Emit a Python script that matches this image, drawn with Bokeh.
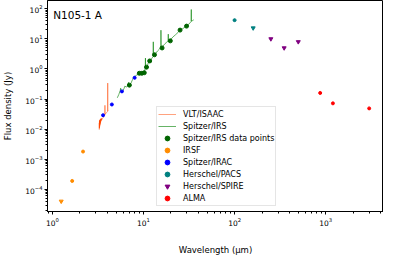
from bokeh.plotting import figure
from bokeh.models import Legend, LegendItem, FixedTicker, Label
from bokeh.embed import file_html
from bokeh.resources import INLINE

# ---- data (wavelength in micron, flux density in Jy) ----
isaac_wl = [3.27, 3.275, 3.28, 3.285, 3.29, 3.295, 3.30, 3.305, 3.31, 3.32, 3.33, 3.335, 3.34,
            3.35, 3.36, 3.37, 3.38, 3.39, 3.40, 3.42, 3.43, 3.45, 3.46, 3.48,
            3.50, 3.55, 3.62, 3.70, 3.76, 3.775, 3.79, 3.88, 3.98, 4.04, 4.05, 4.06, 4.10]
isaac_flux = [0.0095, 0.016, 0.0105, 0.018, 0.011, 0.019, 0.012, 0.018, 0.013, 0.020, 0.014,
              0.020, 0.015, 0.021, 0.016, 0.021, 0.017, 0.022, 0.018, 0.022, 0.019, 0.023,
              0.020, 0.022, 0.021, 0.023, 0.024, 0.028, 0.030, 0.062, 0.031, 0.034, 0.037,
              0.039, 0.34, 0.040, 0.041]

irs_wl = [5.16, 5.35, 5.55, 5.62, 5.68, 5.9, 6.1, 6.25, 6.45, 6.7, 6.85, 7.0, 7.3, 7.6, 7.8,
          8.1, 8.5, 8.9, 9.3, 9.7, 10.2, 10.45, 10.51, 10.56, 11.0, 11.3, 11.8, 12.4, 12.78,
          12.81, 12.85, 13.5, 14.3, 15.0, 15.52, 15.55, 15.6, 16.3, 17.2, 18.0, 18.68, 18.71,
          18.75, 19.7, 21.0, 22.5, 24.0, 25.2, 27.0, 28.5, 30.0, 31.5, 33.4, 33.47, 33.52,
          34.5, 35.6]
irs_flux = [0.11, 0.14, 0.19, 0.23, 0.17, 0.18, 0.22, 0.27, 0.25, 0.27, 0.36, 0.29, 0.34, 0.45,
            0.55, 0.58, 0.64, 0.66, 0.70, 0.72, 0.78, 1.05, 2.3, 1.1, 1.25, 1.6, 1.85, 2.3, 2.6,
            8.0, 2.7, 3.2, 4.0, 4.6, 5.3, 19.5, 5.4, 5.7, 6.9, 7.8, 8.5, 14.4, 8.6, 9.2, 11.5,
            13.8, 16.5, 19.3, 22.0, 24.5, 27.5, 31.0, 38.0, 95.0, 39.0, 40.5, 43.0]

irs_pts_wl = [7.0, 9.0, 9.6, 10.2, 10.8, 11.7, 13.2, 16.0, 19.7, 25.2, 29.7]
irs_pts_flux = [0.29, 0.72, 0.72, 0.75, 1.15, 1.85, 2.97, 5.0, 8.6, 19.6, 26.6]

irsf_wl = [1.65, 2.17]
irsf_flux = [1.9e-4, 1.8e-3]
irsf_lim_wl = [1.25]
irsf_lim_flux = [4.0e-5]

irac_wl = [3.6, 4.5, 5.8, 8.0]
irac_flux = [0.029, 0.066, 0.18, 0.51]

pacs_wl = [100]
pacs_flux = [42.0]
pacs_lim_wl = [160]
pacs_lim_flux = [23.0]

spire_wl = [250, 350, 500]
spire_flux = [10.0, 5.0, 8.0]

alma_wl = [870, 1200, 3000]
alma_flux = [0.16, 0.072, 0.049]

x_major = [1, 10, 100, 1000]
y_major = [1e-4, 1e-3, 1e-2, 1e-1, 1, 10, 100]

FONT = "DejaVu Sans"

p = figure(width=383, height=257, x_axis_type="log", y_axis_type="log",
           x_range=(0.884, 4310), y_range=(1.83e-5, 189),
           output_backend="svg", toolbar_location=None,
           min_border_left=40, min_border_right=0, min_border_top=0, min_border_bottom=29)

p.xgrid.visible = False
p.ygrid.visible = False
p.outline_line_color = "black"
p.outline_line_width = 1
p.outline_line_alpha = 1

r_isaac = p.line(isaac_wl, isaac_flux, line_color="orangered", line_alpha=0.5, line_width=1)
r_irs = p.line(irs_wl, irs_flux, line_color="green", line_alpha=0.6, line_width=1)
r_irs_pts = p.scatter(irs_pts_wl, irs_pts_flux, marker="circle", size=4, color="darkgreen")
r_irsf = p.scatter(irsf_wl, irsf_flux, marker="circle", size=3, color="darkorange")
p.scatter(irsf_lim_wl, irsf_lim_flux, marker="inverted_triangle", size=4, color="darkorange")
r_irac = p.scatter(irac_wl, irac_flux, marker="circle", size=3, color="blue")
r_pacs = p.scatter(pacs_wl, pacs_flux, marker="circle", size=3, color="teal")
p.scatter(pacs_lim_wl, pacs_lim_flux, marker="inverted_triangle", size=4, color="teal")
r_spire = p.scatter(spire_wl, spire_flux, marker="inverted_triangle", size=4, color="purple")
r_alma = p.scatter(alma_wl, alma_flux, marker="circle", size=3, color="red")

# minor ticks at 2..9 x decade
x_minor = [m * d for d in [0.1, 1, 10, 100, 1000] for m in range(2, 10)]
y_minor = [m * d for d in [1e-5, 1e-4, 1e-3, 1e-2, 1e-1, 1, 10, 100] for m in range(2, 10)]
p.xaxis.ticker = FixedTicker(ticks=x_major, minor_ticks=x_minor)
p.yaxis.ticker = FixedTicker(ticks=y_major, minor_ticks=y_minor)

for ax in (p.xaxis[0], p.yaxis[0]):
    ax.axis_line_color = "black"
    ax.major_tick_line_color = "black"
    ax.minor_tick_line_color = "black"
    ax.major_tick_in = 0
    ax.major_tick_out = 3
    ax.minor_tick_in = 0
    ax.minor_tick_out = 2
    ax.major_label_text_font = FONT
    ax.major_label_text_font_size = "7.5px"
    ax.major_label_text_color = "black"
    ax.axis_label_text_font = FONT
    ax.axis_label_text_font_size = "8.5px"
    ax.axis_label_text_font_style = "normal"
    ax.axis_label_text_color = "black"
    ax.major_label_standoff = 2

p.xaxis.axis_label = "Wavelength (\u03bcm)"
p.yaxis.axis_label = "Flux density (Jy)"
p.xaxis.axis_label_text_line_height = 0.3
p.xaxis.axis_label_standoff = 16
p.yaxis.axis_label_text_line_height = 0.6
p.yaxis.axis_label_standoff = 9

p.add_layout(Label(x=1.02, y=64, text="N105-1 A", text_font=FONT, text_font_size="10.5px",
                   text_color="black", text_align="left", text_baseline="alphabetic"))

legend = Legend(items=[
    LegendItem(label="VLT/ISAAC", renderers=[r_isaac]),
    LegendItem(label="Spitzer/IRS", renderers=[r_irs]),
    LegendItem(label="Spitzer/IRS data points", renderers=[r_irs_pts]),
    LegendItem(label="IRSF", renderers=[r_irsf]),
    LegendItem(label="Spitzer/IRAC", renderers=[r_irac]),
    LegendItem(label="Herschel/PACS", renderers=[r_pacs]),
    LegendItem(label="Herschel/SPIRE", renderers=[r_spire]),
    LegendItem(label="ALMA", renderers=[r_alma]),
], location=(109, 5))
legend.label_text_font = FONT
legend.label_text_font_size = "8px"
legend.label_text_color = "black"
legend.label_height = 12
legend.glyph_height = 12
legend.glyph_width = 18
legend.label_standoff = 7
legend.spacing = 0
legend.padding = 1
legend.margin = 0
legend.border_line_color = "#cccccc"
legend.border_line_width = 1
legend.background_fill_alpha = 0.8
p.add_layout(legend)

open("out.html", "w").write(file_html(p, INLINE))
